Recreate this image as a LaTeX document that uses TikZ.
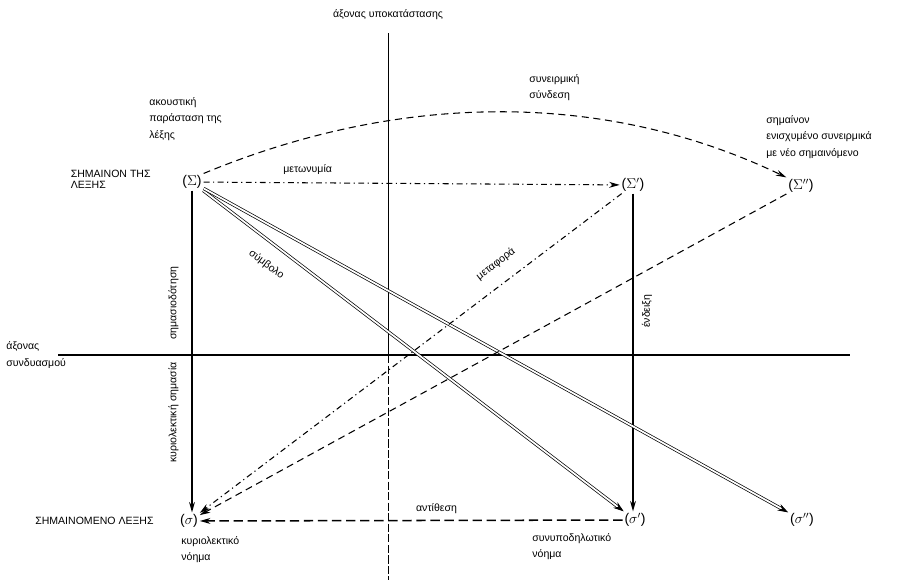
\documentclass[tikz,border=0pt]{standalone}
\usepackage{fontspec}
\setmainfont{Liberation Sans}
\usepackage{tikz}
\usetikzlibrary{arrows.meta, positioning}
\tikzset{
  signnode/.style={font=\large, inner sep=1.5pt},
  note/.style={font=\fontsize{9}{14}\selectfont, align=left, inner sep=1pt},
  tightnote/.style={font=\fontsize{9}{9.5}\selectfont, align=left, inner sep=1pt},
  axisline/.style={line width=1.9pt, color=black},
  thinaxis/.style={line width=0.8pt, color=black},
  arrow/.style={-{Stealth[length=9pt, width=5pt]}, line width=1.1pt},
  dblarrow/.style={-{Stealth[length=9pt, width=6pt]}, double, double distance=1.5pt, line width=0.6pt},
  dashdotarrow/.style={-{Stealth[length=9pt, width=5pt]}, line width=0.9pt, dash pattern=on 5pt off 3pt on 1pt off 3pt},
  dasharrow/.style={-{Stealth[length=9pt, width=5pt]}, line width=0.9pt, dash pattern=on 6pt off 4pt}
}

\begin{document}
\begin{tikzpicture}[x=0.03cm, y=-0.03cm]
  \useasboundingbox (0,0) rectangle (922,580);

  % axes
  \coordinate (vtop) at (388,33);
  \coordinate (vmid) at (388,355);
  \coordinate (vbot) at (388,580);
  \coordinate (hleft) at (58,355);
  \coordinate (hright) at (850,355);
  \draw[thinaxis] (vtop) -- (vmid);
  \draw[thinaxis, dash pattern=on 7pt off 2pt] (vmid) -- (vbot);
  \draw[axisline] (hleft) -- (hright);
  \node[note, above=10pt of vtop] (vlabel) {άξονας υποκατάστασης};
  \node[note, anchor=west] (hlabel) at (5,355) {άξονας\\συνδυασμού};

  % signifiers and signifieds
  \node[signnode] (S)  at (192,182) {($\Sigma$)};
  \node[signnode] (S1) at (633,185) {($\Sigma'$)};
  \node[signnode] (S2) at (801,186) {($\Sigma''$)};
  \node[signnode] (s)  at (189,521) {($\sigma$)};
  \node[signnode] (s1) at (635,520) {($\sigma'$)};
  \node[signnode] (s2) at (802,520) {($\sigma''$)};

  \node[tightnote, anchor=east] (Slabel) at (152,179) {ΣΗΜΑΙΝΟΝ ΤΗΣ\\ΛΕΞΗΣ};
  \node[note, anchor=north west] (Snote) at (148,96) {ακουστική\\παράσταση της\\λέξης};
  \node[note, anchor=north west] (arcnote) at (528,73) {συνειρμική\\σύνδεση};
  \node[note, anchor=north west] (S2note) at (765,114) {σημαίνον\\ενισχυμένο συνειρμικά\\με νέο σημαινόμενο};
  \node[note, anchor=east] (slabel) at (155,521) {ΣΗΜΑΙΝΟΜΕΝΟ ΛΕΞΗΣ};
  \node[note, anchor=north west] (snote) at (180,535) {κυριολεκτικό\\νόημα};
  \node[note, anchor=north west] (s1note) at (531,532) {συνυποδηλωτικό\\νόημα};

  % links
  \draw[dashdotarrow] (S) -- (S1)
    node[pos=0.25, above, note, yshift=6pt] {μετωνυμία};
  \draw[dasharrow] (S.north east) .. controls (400,92) and (604,90) .. (S2.north west);
  \draw[arrow] (S.south) -- (S.south |- s.north)
    node[pos=0.35, above, rotate=90, note, yshift=10pt] {σημασιοδότηση}
    node[pos=0.69, above, rotate=90, note, yshift=10pt] {κυριολεκτική σημασία};
  \draw[arrow] (S1.south) -- (S1.south |- s1.north)
    node[pos=0.37, below, rotate=90, note, yshift=-6pt] {ένδειξη};
  \draw[dasharrow, line width=1.3pt, dash pattern=on 8pt off 4pt] (s1) -- (s)
    node[pos=0.44, above, note, yshift=4pt] {αντίθεση};
  \draw[dblarrow] (S) -- (s1)
    node[pos=0.18, below, sloped, note, yshift=-12pt] {σύμβολο};
  \draw[dblarrow] (S) -- (s2);
  \draw[dashdotarrow] (S1) -- (s)
    node[pos=0.27, above, sloped, note, yshift=11pt] {μεταφορά};
  \draw[dasharrow] (S2) -- (s);
\end{tikzpicture}
\end{document}
